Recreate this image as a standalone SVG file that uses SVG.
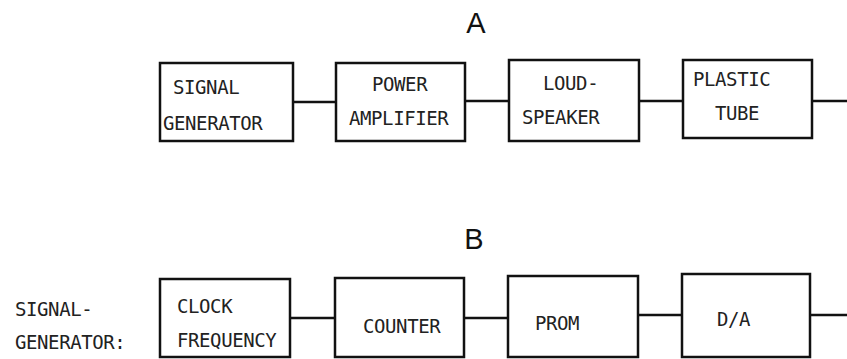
<svg xmlns="http://www.w3.org/2000/svg" width="847" height="359" viewBox="0 0 847 359">
<style>
.box{fill:none;stroke:#111;stroke-width:2.5}
.ln{fill:none;stroke:#111;stroke-width:2.5}
.t{font-family:"DejaVu Sans Mono","Liberation Mono",monospace;font-size:19px;letter-spacing:-0.4px;fill:#222}
.h{font-family:"Liberation Sans",Arial,sans-serif;font-size:29px;fill:#111;text-anchor:middle}
</style>
<rect width="847" height="359" fill="#fff"/>
<text class="h" x="476" y="33">A</text>
<text class="h" x="474" y="249">B</text>
<g id="sig-gen-a"><rect class="box" x="160" y="63" width="133" height="78"/><text class="t" x="173" y="94">SIGNAL</text><text class="t" x="163" y="130">GENERATOR</text></g>
<g id="power-amp"><rect class="box" x="336" y="63" width="129" height="78"/><text class="t" x="372" y="91">POWER</text><text class="t" x="349" y="125">AMPLIFIER</text></g>
<g id="loudspeaker"><rect class="box" x="509" y="60" width="130" height="81"/><text class="t" x="543" y="90">LOUD-</text><text class="t" x="522" y="124">SPEAKER</text></g>
<g id="plastic-tube"><rect class="box" x="683" y="60" width="129" height="78"/><text class="t" x="693" y="86">PLASTIC</text><text class="t" x="715" y="120">TUBE</text></g>
<g id="sig-gen-label"><text class="t" x="15" y="316">SIGNAL-</text><text class="t" x="15" y="349">GENERATOR:</text></g>
<g id="clock"><rect class="box" x="160" y="279" width="130" height="78"/><text class="t" x="177" y="313">CLOCK</text><text class="t" x="177" y="347">FREQUENCY</text></g>
<g id="counter"><rect class="box" x="335" y="278" width="129" height="79"/><text class="t" x="363" y="333">COUNTER</text></g>
<g id="prom"><rect class="box" x="508" y="276" width="130" height="81"/><text class="t" x="535" y="330">PROM</text></g>
<g id="da"><rect class="box" x="682" y="274" width="128" height="83"/><text class="t" x="717" y="326">D/A</text></g>
<g id="connectors">
<line class="ln" x1="293" y1="102" x2="336" y2="102"/>
<line class="ln" x1="465" y1="101" x2="509" y2="101"/>
<line class="ln" x1="639" y1="101" x2="683" y2="101"/>
<line class="ln" x1="812" y1="101" x2="847" y2="101"/>
<line class="ln" x1="290" y1="318" x2="335" y2="318"/>
<line class="ln" x1="464" y1="318" x2="508" y2="318"/>
<line class="ln" x1="638" y1="315" x2="682" y2="315"/>
<line class="ln" x1="810" y1="315" x2="847" y2="315"/>
</g>
</svg>
